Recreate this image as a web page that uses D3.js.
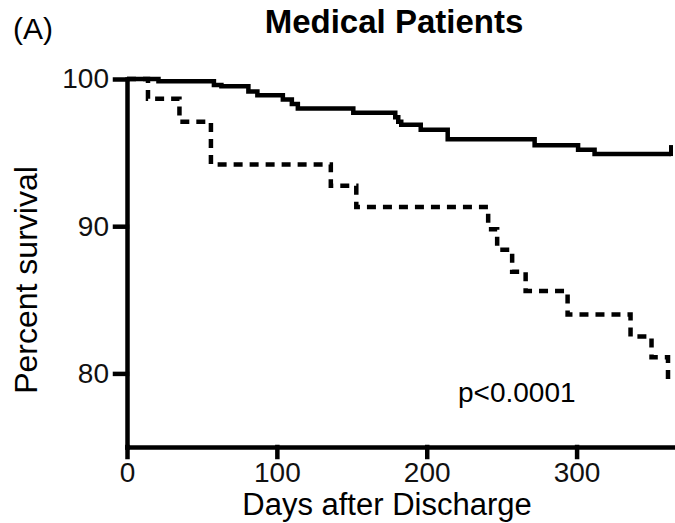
<!DOCTYPE html>
<html>
<head>
<meta charset="utf-8">
<script src="https://cdn.jsdelivr.net/npm/d3@7"></script>
<style>
  body { margin: 0; background: #fff; }
  svg { display: block; font-family: "Liberation Sans", Arial, sans-serif; }
  .axis path, .axis line { stroke: #000; stroke-width: 4.5px; stroke-linecap: square; }
  .axis text { font-family: "Liberation Sans", Arial, sans-serif; font-size: 28px; fill: #111; }
  .curve { fill: none; stroke: #000; stroke-width: 4.5px; }
</style>
</head>
<body>
<svg width="675" height="523"></svg>
<script>
// survival steps (days, percent)
const solidDays = [0, 21, 58, 63, 81, 87, 104, 110, 114, 151, 179, 181, 183, 196, 214, 272, 301, 312, 363]
const solidSurvival = [100, 99.84, 99.6, 99.5, 99.15, 98.9, 98.6, 98.3, 98.0, 97.7, 97.4, 97.1, 96.9, 96.55, 95.9, 95.5, 95.2, 94.9, 94.9]

const dashedDays = [0, 14, 35, 56, 136, 153, 241, 247, 257, 266, 294, 336, 350, 361]
const dashedSurvival = [100, 98.65, 97.1, 94.2, 92.75, 91.3, 89.8, 88.4, 86.9, 85.6, 84.0, 82.5, 81.1, 79.6]

const xTicks = [0, 100, 200, 300]
const yTicks = [80, 90, 100]

const svg = d3.select('svg')
const x = d3.scaleLinear().domain([0, 365]).range([127, 674])
const y = d3.scaleLinear().domain([75, 100]).range([447, 79])

drawAxes()
drawCurves()
drawLabels()

function drawAxes() {
  svg.append('g')
    .attr('class', 'axis')
    .attr('transform', `translate(0,${y(75)})`)
    .call(d3.axisBottom(x).tickValues(xTicks).tickSize(10).tickSizeOuter(0).tickPadding(5))
    .call(g => g.selectAll('text').attr('dy', '0.7em'))

  svg.append('g')
    .attr('class', 'axis')
    .attr('transform', `translate(${x(0)},0)`)
    .call(d3.axisLeft(y).tickValues(yTicks).tickSize(12).tickSizeOuter(0).tickPadding(6))
}

function drawCurves() {
  const line = d3.line()
    .x(d => x(d[0]))
    .y(d => y(d[1]))
    .curve(d3.curveStepAfter)

  const solid = solidDays.map((d, i) => [d, solidSurvival[i]])
  const dashed = dashedDays.map((d, i) => [d, dashedSurvival[i]])

  svg.append('path')
    .attr('class', 'curve')
    .attr('stroke-dasharray', '9,7')
    .attr('d', line(dashed))

  svg.append('path')
    .attr('class', 'curve')
    .attr('d', line(solid))

  // censor tick at the end of the solid curve
  const last = solid[solid.length - 1]
  svg.append('line')
    .attr('x1', x(last[0])).attr('x2', x(last[0]))
    .attr('y1', y(last[1]) + 2).attr('y2', y(last[1]) - 9)
    .attr('stroke', '#000')
    .attr('stroke-width', 4)
}

function drawLabels() {
  svg.append('text')
    .attr('x', 13).attr('y', 39)
    .attr('font-size', 30)
    .text('(A)')

  svg.append('text')
    .attr('x', 394).attr('y', 33)
    .attr('text-anchor', 'middle')
    .attr('font-size', 33)
    .attr('font-weight', 'bold')
    .text('Medical Patients')

  svg.append('text')
    .attr('transform', 'translate(37,280) rotate(-90)')
    .attr('text-anchor', 'middle')
    .attr('font-size', 32)
    .text('Percent survival')

  svg.append('text')
    .attr('x', 387).attr('y', 515)
    .attr('text-anchor', 'middle')
    .attr('font-size', 31)
    .text('Days after Discharge')

  svg.append('text')
    .attr('x', 458).attr('y', 402)
    .attr('font-size', 28)
    .text('p<0.0001')
}
</script>
</body>
</html>
